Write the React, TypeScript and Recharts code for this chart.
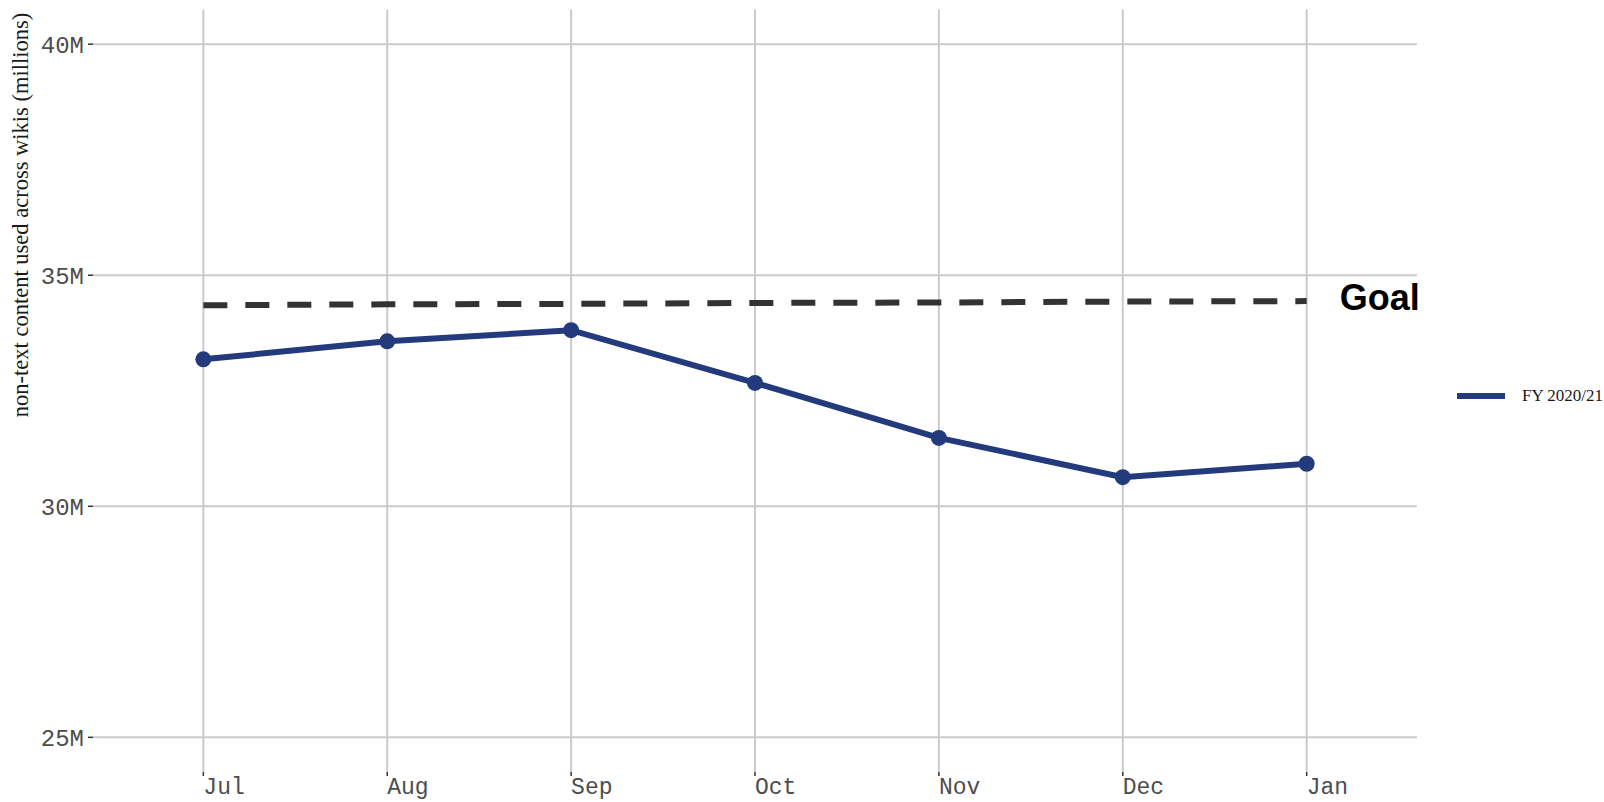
import { Line, LineChart, ReferenceLine, XAxis, YAxis } from "recharts"

const months = ["Jul", "Aug", "Sep", "Oct", "Nov", "Dec", "Jan"]
const usage = [33.18, 33.57, 33.81, 32.67, 31.48, 30.63, 30.92]
const goal = [34.35, 34.37, 34.38, 34.4, 34.41, 34.43, 34.44]
const yTicks = [25, 30, 35, 40]
const monthTicks = [0, 1, 2, 3, 4, 5, 6]

const navy = "#233a7c"
const gridColor = "#cbcbcb"

const data = months.map((month, i) => ({ idx: i, month, usage: usage[i], goal: goal[i] }))

const monoFamily = "'Liberation Mono', 'DejaVu Sans Mono', monospace"

function GoalLabel(props: any) {
  const { x, y, index } = props
  if (index !== goal.length - 1) return <g />
  return (
    <text
      x={x + 33}
      y={y + 9}
      fontSize={36}
      fontWeight="bold"
      fontFamily="'Liberation Sans', Arial, sans-serif"
      fill="#000"
    >
      Goal
    </text>
  )
}

export default function App() {
  return (
    <div style={{ position: "absolute", left: 0, top: 0, width: 1604, height: 802, background: "#fff" }}>
      <LineChart width={1604} height={802} data={data} margin={{ top: 9.5, right: 187, bottom: 0, left: 33 }}>
        <XAxis
          dataKey="idx"
          type="number"
          domain={[-0.6, 6.6]}
          ticks={monthTicks}
          interval={0}
          height={30}
          axisLine={false}
          tickLine={{ stroke: "#333", strokeWidth: 1.5 }}
          tickSize={4}
          tickMargin={2}
          tickFormatter={(v: number) => months[v]}
          tick={{ fontSize: 23, fill: "#4d4d4d", fontFamily: monoFamily, textAnchor: "start" }}
        />
        <YAxis
          type="number"
          domain={[24.25, 40.75]}
          allowDataOverflow
          ticks={yTicks}
          width={60}
          axisLine={false}
          tickLine={{ stroke: "#333", strokeWidth: 1.5 }}
          tickSize={5}
          tickMargin={4}
          tickFormatter={(v: number) => `${v}M`}
          tick={{ fontSize: 24, fill: "#4d4d4d", fontFamily: monoFamily }}
          label={{
            content: () => (
              <text
                transform="translate(28,215) rotate(-90)"
                textAnchor="middle"
                fontSize={22.5}
                fontFamily="'Liberation Serif', 'Times New Roman', serif"
                fill="#1a1a1a"
              >
                non-text content used across wikis (millions)
              </text>
            ),
          }}
        />
        {yTicks.map((t) => (
          <ReferenceLine key={`h${t}`} y={t} stroke={gridColor} strokeWidth={2} />
        ))}
        {monthTicks.map((t) => (
          <ReferenceLine key={`v${t}`} x={t} stroke={gridColor} strokeWidth={2} />
        ))}
        <Line
          dataKey="goal"
          stroke="#333333"
          strokeWidth={6}
          strokeDasharray="24 18"
          dot={false}
          activeDot={false}
          isAnimationActive={false}
          label={GoalLabel}
        />
        <Line
          dataKey="usage"
          stroke={navy}
          strokeWidth={6}
          dot={{ r: 8, fill: navy, stroke: "none" }}
          activeDot={false}
          isAnimationActive={false}
        />
      </LineChart>
      <div style={{ position: "absolute", left: 1457, top: 384, display: "flex", alignItems: "center", height: 24 }}>
        <svg width={48} height={24}>
          <line x1={0} x2={48} y1={12} y2={12} stroke={navy} strokeWidth={6} />
        </svg>
        <span
          style={{
            marginLeft: 17,
            fontSize: 17,
            fontFamily: "'Liberation Serif', 'Times New Roman', serif",
            color: "#1a1a1a",
            whiteSpace: "nowrap",
          }}
        >
          FY 2020/21
        </span>
      </div>
    </div>
  )
}
